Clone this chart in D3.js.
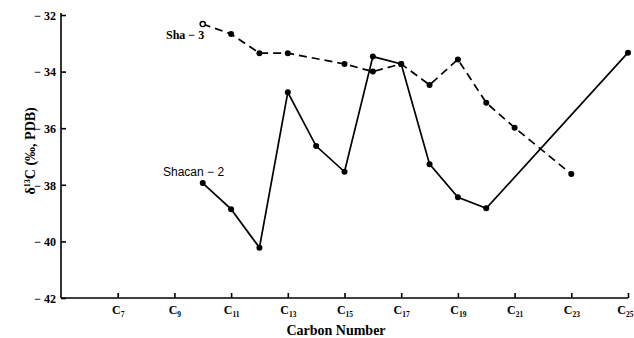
<!DOCTYPE html>
<html>
<head>
<meta charset="utf-8">
<script src="https://d3js.org/d3.v7.min.js"></script>
<style>
  body { margin: 0; background: #fff; }
  svg text { font-family: 'Liberation Serif', 'DejaVu Serif', serif; fill: #000; }
  .axis path, .axis line { stroke: #000; stroke-width: 1.6px; }
</style>
</head>
<body>
<svg id="chart" width="634" height="338"></svg>
<script>
// carbon numbers and δ13C values (‰, PDB)
const shaCarbon = [10, 11, 12, 13, 15, 16, 17, 18, 19, 20, 21, 23];
const shaValues = [-32.32, -32.67, -33.35, -33.35, -33.73, -34.0, -33.73, -34.47, -33.57, -35.1, -35.98, -37.62];

const shacanCarbon = [10, 11, 12, 13, 14, 15, 16, 17, 18, 19, 20, 25];
const shacanValues = [-37.94, -38.86, -40.22, -34.73, -36.63, -37.54, -33.47, -33.73, -37.27, -38.44, -38.83, -33.33];

const xTicks = [7, 9, 11, 13, 15, 17, 19, 21, 23, 25];
const yTicks = [-32, -34, -36, -38, -40, -42];

const svg = d3.select('#chart');
const margin = {left: 61, right: 6, top: 15, bottom: 40};
const width = 634 - margin.left - margin.right,
      height = 338 - margin.top - margin.bottom;

const x = d3.scaleLinear().domain([5, 25]).range([margin.left, margin.left + width]);
const y = d3.scaleLinear().domain([-42, -32]).range([margin.top + height, margin.top]);

// y axis
const yAxis = svg.append('g')
    .attr('class', 'axis')
    .attr('transform', `translate(${margin.left},0)`)
    .call(d3.axisRight(y).tickValues(yTicks).tickSize(5).tickFormat(() => ''));
yAxis.select('.domain').attr('d', `M0,${y(-42)}V${y(-32) - 2}`);
yAxis.selectAll('.tick').append('text')
    .attr('x', -5).attr('dy', '0.35em')
    .attr('text-anchor', 'end')
    .style('font-size', '12px').style('font-weight', 'bold')
    .text(d => '− ' + Math.abs(d));

// x axis
const xAxis = svg.append('g')
    .attr('class', 'axis')
    .attr('transform', `translate(0,${y(-42)})`)
    .call(d3.axisTop(x).tickValues(xTicks).tickSize(5).tickFormat(() => ''));
xAxis.select('.domain').attr('d', `M${x(5)},0H${x(25)}`);
const xl = xAxis.selectAll('.tick').append('text')
    .attr('y', 16)
    .attr('x', d => d === 25 ? 5 : 0)
    .attr('text-anchor', d => d === 25 ? 'end' : 'middle')
    .style('font-size', '12px').style('font-weight', 'bold');
xl.append('tspan').text('C');
xl.append('tspan').attr('dy', 3).style('font-size', '7.5px').text(d => d);

// axis titles
svg.append('text')
    .attr('x', 336).attr('y', 335)
    .attr('text-anchor', 'middle')
    .style('font-size', '14px').style('font-weight', 'bold')
    .text('Carbon Number');

const yt = svg.append('text')
    .attr('transform', `translate(35,${y(-36.8)}) rotate(-90)`)
    .attr('text-anchor', 'middle')
    .style('font-size', '14px').style('font-weight', 'bold');
yt.append('tspan').text('δ');
yt.append('tspan').attr('dy', -5).style('font-size', '8px').text('13');
yt.append('tspan').attr('dy', 5).text('C (‰, PDB)');

// series
const line = d3.line().x(d => x(d[0])).y(d => y(d[1]));
const sha = d3.zip(shaCarbon, shaValues);
const shacan = d3.zip(shacanCarbon, shacanValues);

svg.append('path').datum(sha)
    .attr('d', line).attr('fill', 'none')
    .attr('stroke', '#000').attr('stroke-width', 1.7)
    .attr('stroke-dasharray', '8,5');

svg.append('path').datum(shacan)
    .attr('d', line).attr('fill', 'none')
    .attr('stroke', '#000').attr('stroke-width', 1.7);

svg.selectAll('.pt-sha').data(sha).enter().append('circle')
    .attr('cx', d => x(d[0])).attr('cy', d => y(d[1]))
    .attr('r', (d, i) => i === 0 ? 2.6 : 3)
    .attr('fill', (d, i) => i === 0 ? '#fff' : '#000')
    .attr('stroke', '#000').attr('stroke-width', (d, i) => i === 0 ? 1.4 : 0);

svg.selectAll('.pt-shacan').data(shacan).enter().append('circle')
    .attr('cx', d => x(d[0])).attr('cy', d => y(d[1]))
    .attr('r', 3).attr('fill', '#000');

// series labels
svg.append('text')
    .attr('x', 166).attr('y', 39)
    .style('font-size', '12px').style('font-weight', 'bold')
    .text('Sha − 3');

svg.append('text')
    .attr('x', 163).attr('y', 176)
    .style('font-family', "'Liberation Sans', sans-serif")
    .style('font-size', '12px')
    .text('Shacan − 2');
</script>
</body>
</html>
